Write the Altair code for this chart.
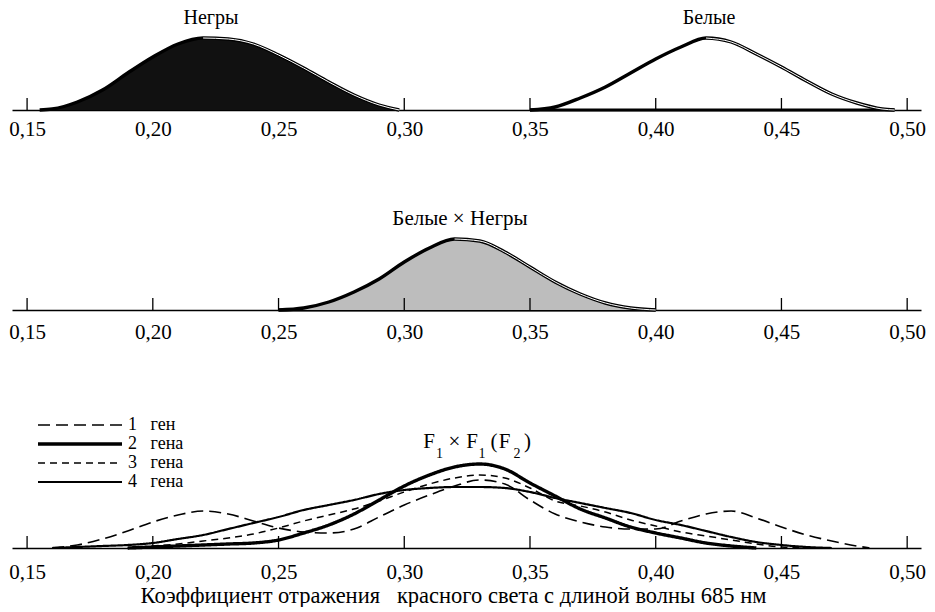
import altair as alt
import pandas as pd

FONT = "Liberation Serif"

# ---------------- data ----------------
tick_values = [0.15, 0.20, 0.25, 0.30, 0.35, 0.40, 0.45, 0.50]

# Row 1 : Негры
negro_x = [0.155, 0.16, 0.17, 0.18, 0.19, 0.20, 0.21, 0.22, 0.23, 0.24, 0.25, 0.26, 0.27, 0.28, 0.29, 0.298]
negro_y = [0, 1, 8, 20, 37, 53, 66, 72, 71, 66, 55, 42, 28, 15, 5, 0]

# Row 1 : Белые
white_x = [0.35, 0.36, 0.37, 0.38, 0.39, 0.40, 0.41, 0.42, 0.43, 0.44, 0.45, 0.46, 0.47, 0.48, 0.49, 0.495]
white_y = [0, 3, 12, 23, 37, 51, 63, 72, 68, 56, 43, 29, 16, 7, 1, 0]

# Row 2 : Белые × Негры
hybrid_x = [0.25, 0.26, 0.27, 0.28, 0.29, 0.30, 0.31, 0.32, 0.33, 0.34, 0.35, 0.36, 0.37, 0.38, 0.39, 0.40]
hybrid_y = [0, 2, 8, 18, 31, 48, 62, 71, 69, 58, 43, 28, 16, 7, 2, 0]

# Row 3 : F1 × F1 (F2)
gene1_x = [0.16, 0.17, 0.18, 0.19, 0.20, 0.21, 0.22, 0.23, 0.24, 0.25, 0.26, 0.27, 0.28, 0.29, 0.30, 0.31, 0.32,
           0.33, 0.34, 0.35, 0.36, 0.37, 0.38, 0.39, 0.40, 0.41, 0.42, 0.43, 0.44, 0.45, 0.46, 0.47, 0.48, 0.485]
gene1_y = [0, 3, 9, 17, 26, 33, 37, 34, 27, 20, 16, 15, 19, 31, 43, 53, 62,
           68, 64, 48, 34, 26, 21, 19, 19, 27, 34, 37, 30, 21, 13, 7, 2, 0]

gene2_x = [0.19, 0.20, 0.21, 0.22, 0.23, 0.24, 0.25, 0.26, 0.27, 0.28, 0.29, 0.30, 0.31,
           0.32, 0.33, 0.34, 0.35, 0.36, 0.37, 0.38, 0.39, 0.40, 0.41, 0.42, 0.43, 0.44]
gene2_y = [0, 1, 2, 3, 4, 5, 8, 15, 23, 34, 48, 62, 73,
           81, 84, 79, 65, 52, 39, 30, 21, 15, 10, 5, 2, 0]

gene3_x = [0.19, 0.20, 0.21, 0.22, 0.23, 0.24, 0.25, 0.26, 0.27, 0.28, 0.29, 0.30, 0.31, 0.32,
           0.33, 0.34, 0.35, 0.36, 0.37, 0.38, 0.39, 0.40, 0.41, 0.42, 0.43, 0.44, 0.45, 0.46]
gene3_y = [0, 2, 4, 7, 10, 14, 20, 27, 33, 39, 47, 56, 64, 70,
           73, 70, 60, 47, 42, 36, 28, 22, 16, 12, 8, 4, 1, 0]

gene4_x = [0.16, 0.17, 0.18, 0.19, 0.20, 0.21, 0.22, 0.23, 0.24, 0.25, 0.26, 0.27, 0.28, 0.29, 0.30, 0.31,
           0.32, 0.33, 0.34, 0.35, 0.36, 0.37, 0.38, 0.39, 0.40, 0.41, 0.42, 0.43, 0.44, 0.45, 0.46, 0.47]
gene4_y = [0, 1, 2, 3, 5, 9, 13, 19, 25, 31, 38, 43, 48, 54, 58, 60,
           61, 61, 60, 56, 50, 45, 40, 35, 28, 23, 17, 11, 6, 3, 1, 0]

gene_labels = ["1 ген", "2 гена", "3 гена", "4 гена"]
gene_counts = [1, 2, 3, 4]

# title "F1 × F1(F2)" split into pieces: (text, is_subscript)
f2_title = [("F", False), ("1", True), ("×", False), ("F", False), ("1", True),
            ("(", False), ("F", False), ("2", True), (")", False)]

# ---------------- styles / layout ----------------
gene_dash = [[12, 6], [1, 0], [7, 5], [1, 0]]
gene_width = [1.6, 3.4, 1.5, 2.2]
f2_title_px = [417, 427.5, 442.5, 460, 470, 482, 492.5, 505, 515.5]

X_DOMAIN = [0.144, 0.5055]
W = 909
H1, H2, H3 = 99, 100, 138


def frame(xs, ys, **extra):
    d = pd.DataFrame({"x": xs, "y": ys})
    for k, v in extra.items():
        d[k] = v
    return d


def right_half(df):
    peak = df["x"][df["y"].idxmax()]
    return df[df["x"] >= peak]


def x_enc(label_padding, title=None, **kw):
    ax = dict(
        values=tick_values,
        labelExpr="replace(format(datum.value, '.2f'), '.', ',')",
        tickSize=0,
        domainColor="black",
        domainWidth=1.6,
        labelFont=FONT,
        labelFontSize=21,
        labelColor="black",
        labelPadding=label_padding,
        grid=False,
        title=title,
    )
    ax.update(kw)
    return alt.X("x:Q", scale=alt.Scale(domain=X_DOMAIN, nice=False, zero=False), axis=alt.Axis(**ax))


def y_enc(h):
    return alt.Y("y:Q", scale=alt.Scale(domain=[0, h], nice=False, zero=True), axis=None)


def tick_layer(h, xe):
    return alt.Chart(pd.DataFrame({"x": tick_values})).mark_rule(color="black", strokeWidth=1.3).encode(
        x=xe, y=alt.value(h - 12), y2=alt.value(h)
    )


def title_layer(text, px, py, size=20):
    return alt.Chart(pd.DataFrame({"t": [text]})).mark_text(
        font=FONT, fontSize=size, color="black", align="center", baseline="alphabetic"
    ).encode(text="t:N", x=alt.value(px), y=alt.value(py))


def double_outline(df, xe, ye):
    outer = alt.Chart(df).mark_line(color="black", strokeWidth=3.4, interpolate="monotone").encode(x=xe, y=ye)
    inner = alt.Chart(right_half(df)).mark_line(color="white", strokeWidth=1.0, interpolate="monotone").encode(x=xe, y=ye)
    return outer, inner


def base_rule(df, h):
    return alt.Chart(df).mark_rule(color="black", strokeWidth=3).encode(
        x=alt.X("min(x):Q", scale=alt.Scale(domain=X_DOMAIN, nice=False, zero=False)),
        x2=alt.X2("max(x)"),
        y=alt.value(h),
    )


# ---------------- panel 1 ----------------
negro = frame(negro_x, negro_y)
white = frame(white_x, white_y)
xe1 = x_enc(8)
ye1 = y_enc(H1)
n_out, n_in = double_outline(negro, xe1, ye1)
w_out, w_in = double_outline(white, xe1, ye1)
panel1 = alt.layer(
    tick_layer(H1, xe1),
    base_rule(white, H1),
    alt.Chart(negro).mark_area(color="#111111", interpolate="monotone").encode(x=xe1, y=ye1),
    n_out, n_in, w_out, w_in,
    title_layer("Негры", 199, 13),
    title_layer("Белые", 697, 13),
).properties(width=W, height=H1)

# ---------------- panel 2 ----------------
hybrid = frame(hybrid_x, hybrid_y)
xe2 = x_enc(11)
ye2 = y_enc(H2)
h_out, h_in = double_outline(hybrid, xe2, ye2)
panel2 = alt.layer(
    base_rule(hybrid, H2),
    alt.Chart(hybrid).mark_area(color="#bdbdbd", interpolate="monotone").encode(x=xe2, y=ye2),
    tick_layer(H2, xe2),
    h_out, h_in,
    title_layer("Белые × Негры", 448, 15, size=21),
).properties(width=W, height=H2)

# ---------------- panel 3 ----------------
genes = pd.concat([
    frame(gene1_x, gene1_y, series=gene_labels[0], genes=gene_counts[0]),
    frame(gene2_x, gene2_y, series=gene_labels[1], genes=gene_counts[1]),
    frame(gene3_x, gene3_y, series=gene_labels[2], genes=gene_counts[2]),
    frame(gene4_x, gene4_y, series=gene_labels[3], genes=gene_counts[3]),
], ignore_index=True)

width_expr = " : ".join(
    f"datum.value == '{lab}' ? {w}" for lab, w in zip(gene_labels[:-1], gene_width[:-1])
) + f" : {gene_width[-1]}"

legend = alt.Legend(
    title=None,
    orient="none",
    legendX=97,
    legendY=405,
    symbolType="M-16,0H0.8",
    symbolSize=100,
    symbolStrokeColor="black",
    symbolStrokeWidth=alt.ExprRef(expr=width_expr),
    labelFont=FONT,
    labelFontSize=18,
    labelColor="black",
    labelOffset=1,
    rowPadding=1,
    labelExpr="replace(datum.label, ' ', '\u00a0\u00a0\u00a0')",
)

xe3 = x_enc(13, title="Коэффициент отражения\u00a0\u00a0\u00a0красного света с длиной волны 685 нм",
            titleFont=FONT, titleFontSize=22.5, titleFontWeight="normal", titleColor="black",
            titlePadding=2, titleX=441)
ye3 = y_enc(H3)

f2_layers = [
    title_layer(txt, px, 48 if sub else 38, size=14 if sub else 21)
    for (txt, sub), px in zip(f2_title, f2_title_px)
]

panel3 = alt.layer(
    tick_layer(H3, xe3),
    alt.Chart(genes).mark_line(color="black", interpolate="monotone").encode(
        x=xe3, y=ye3,
        detail="series:N",
        strokeDash=alt.StrokeDash("series:N", scale=alt.Scale(domain=gene_labels, range=gene_dash), legend=legend),
        strokeWidth=alt.StrokeWidth("genes:Q", scale=alt.Scale(domain=gene_counts, range=gene_width), legend=None),
    ),
    *f2_layers,
).properties(width=W, height=H3)

chart = (
    alt.vconcat(panel1, panel2, panel3, spacing=100, bounds="flush")
    .resolve_scale(x="independent")
    .resolve_axis(x="independent")
    .properties(padding={"left": 0, "top": 0, "right": 0, "bottom": 0}, background="white")
    .configure_view(stroke=None)
)

chart.save("out.html", embed_options={"renderer": "svg", "actions": False})
